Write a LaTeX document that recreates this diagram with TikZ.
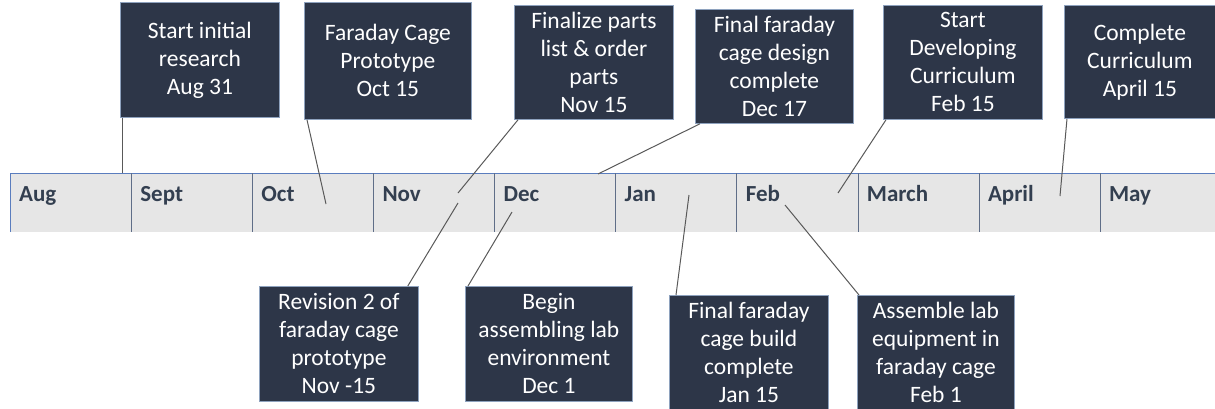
\documentclass[tikz,border=0pt]{standalone}
\usepackage{fontspec}
\setmainfont{Carlito}
\usepackage{tikz}
\usetikzlibrary{positioning}

\definecolor{boxfill}{HTML}{2D3648}
\definecolor{boxline}{HTML}{8EA2BE}
\definecolor{barfill}{HTML}{E6E6E6}
\definecolor{barline}{HTML}{5A7DBE}
\definecolor{sepline}{HTML}{5F6E88}
\definecolor{monthtext}{HTML}{333F50}
\definecolor{linkline}{HTML}{595959}

\begin{document}
\begin{tikzpicture}[x=1pt, y=-1pt,
	event/.style={draw=boxline, line width=0.8pt, fill=boxfill, text=white, align=center, inner sep=0pt, anchor=north west, minimum width=159pt, minimum height=115pt, font=\fontsize{23.5}{28}\selectfont},
	month/.style={anchor=base west, inner sep=0pt, text=monthtext, font=\fontsize{23}{27}\selectfont\bfseries},
	link/.style={draw=linkline, line width=1pt}]
			\useasboundingbox (0,0) rectangle (1215,408);
			
			\fill[barfill] (10,173) rectangle (1215,232);
			\draw[barline] (10,232) -- (10,173) -- (1215,173);
			
			\foreach \i in {1, 2, 3, 4, 5, 6, 7, 8, 9}
			\draw[sepline] ({10+121.1*\i},173) -- ({10+121.1*\i},232);
			
			\foreach \m [count=\i from 0] in {Aug, Sept, Oct, Nov, Dec, Jan, Feb, March, April, May}
			\node[month] (m\i) at ({19+121.1*\i},201) {\m};
			
			\node[event] (research) at (120,2) {Start initial\\research\\Aug 31};
			\node[event, minimum width=167pt, minimum height=117pt] (prototype) at (304,2) {Faraday Cage\\Prototype\\Oct 15};
			\node[event, minimum height=114pt] (parts) at (514,5) {Finalize parts\\list \& order\\parts\\Nov 15};
			\node[event, minimum width=158pt, minimum height=114pt] (design) at (695,9) {Final faraday\\cage design\\complete\\Dec 17};
			\node[event, minimum height=114pt] (develop) at (883,5) {Start\\Developing\\Curriculum\\Feb 15};
			\node[event, minimum width=151pt, minimum height=113pt] (curriculum) at (1064,5) {Complete\\Curriculum\\April 15};
			
			\node[event] (revision) at (259,286) {Revision 2 of\\faraday cage\\prototype\\Nov -15};
			\node[event, minimum width=167pt] (lab) at (465,286) {Begin\\assembling lab\\environment\\Dec 1};
			\node[event] (build) at (669,295) {Final faraday\\cage build\\complete\\Jan 15};
			\node[event, minimum width=157pt] (equipment) at (857,295) {Assemble lab\\equipment in\\faraday cage\\Feb 1};
			
			\coordinate (t1) at (122,173);
			\coordinate (t2) at (326,204);
			\coordinate (t3) at (458,193);
			\coordinate (t4) at (598,174);
			\coordinate (t5) at (838,193);
			\coordinate (t6) at (1060,196);
			\coordinate (t7) at (458,203);
			\coordinate (t8) at (512,212);
			\coordinate (t9) at (689,195);
			\coordinate (t10) at (785,205);
			
			\draw[link] ([xshift=2pt]research.south west) -- (t1);
			\draw[link] ([xshift=3pt]prototype.south west) -- (t2);
			\draw[link] ([xshift=4pt]parts.south west) -- (t3);
			\draw[link] ([xshift=5pt]design.south west) -- (t4);
			\draw[link] ([xshift=3pt]develop.south west) -- (t5);
			\draw[link] ([xshift=3pt]curriculum.south west) -- (t6);
			\draw[link] ([xshift=-11pt]revision.north east) -- (t7);
			\draw[link] ([xshift=3pt]lab.north west) -- (t8);
			\draw[link] ([xshift=7pt]build.north west) -- (t9);
			\draw[link] ([xshift=2pt]equipment.north west) -- (t10);
\end{tikzpicture}
\end{document}
